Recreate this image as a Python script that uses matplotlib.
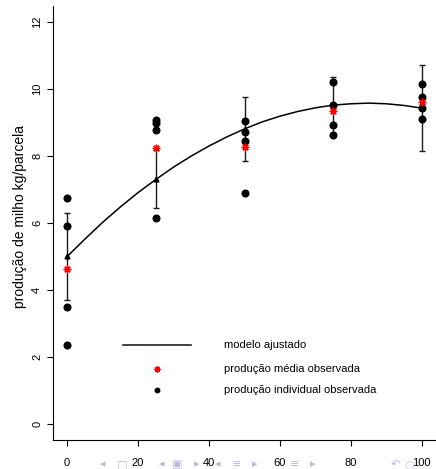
import matplotlib
matplotlib.use("Agg")
import matplotlib.pyplot as plt
from matplotlib.lines import Line2D

plt.rcParams['font.family'] = ['Liberation Sans', 'DejaVu Sans']

# observed yields (4 plots per dose)
doses = [0, 25, 50, 75, 100]
individual = [
    [6.75, 5.91, 3.49, 2.36],
    [9.07, 8.98, 8.78, 6.14],
    [9.04, 8.72, 8.46, 6.90],
    [10.21, 9.52, 8.93, 8.64],
    [10.14, 9.75, 9.44, 9.11],
]
means = [4.63, 8.24, 8.28, 9.33, 9.61]

# fitted model at the doses, with interval half-widths
fitted = [5.00, 7.31, 8.81, 9.53, 9.43]
half_width = [1.29, 0.87, 0.95, 0.83, 1.28]

# fitted curve
curve_x = [0, 5, 10, 15, 20, 25, 30, 35, 40, 45, 50,
           55, 60, 65, 70, 75, 80, 85, 90, 95, 100]
curve_y = [5.00, 5.52, 6.02, 6.48, 6.91, 7.30, 7.67, 8.00, 8.30, 8.57, 8.81,
           9.02, 9.19, 9.33, 9.44, 9.52, 9.56, 9.58, 9.56, 9.51, 9.43]

xticks = [0, 20, 40, 60, 80, 100]
yticks = [0, 2, 4, 6, 8, 10, 12]

W, H = 436, 469
fig = plt.figure(figsize=(W / 100, H / 100), dpi=100)
ax = fig.add_axes([53 / W, 29 / H, 383 / W, 434 / H])
ax.set_xlim(-4, 104)
ax.set_ylim(-0.48, 12.48)

ax.errorbar(doses, fitted, yerr=half_width, fmt='none', ecolor='#1a1a1a',
            elinewidth=1.0, capsize=2.3, capthick=1.0, zorder=2)
ax.plot(curve_x, curve_y, color='black', lw=1.1, zorder=3)
ax.plot(doses, fitted, ls='none', marker='^', ms=3.5, color='black', zorder=3)
for d, vals in zip(doses, individual):
    ax.plot([d] * len(vals), vals, ls='none', marker='o', ms=4.8,
            color='black', zorder=4)
ax.plot(doses, means, ls='none', marker=(8, 2, 0), ms=5.5, mew=0.9,
        color='red', zorder=5)

for s in ['top', 'right']:
    ax.spines[s].set_visible(False)
for s in ['left', 'bottom']:
    ax.spines[s].set_linewidth(0.8)
ax.set_xticks(xticks)
ax.set_yticks(yticks)
ax.tick_params(length=4.3, width=0.8, labelsize=8)
ax.tick_params(axis='x', pad=8.5)
ax.tick_params(axis='y', pad=3.5)
for lab in ax.get_yticklabels():
    lab.set_rotation(90)
    lab.set_va('center')
ax.set_ylabel('produção de milho kg/parcela', fontsize=10)
ax.yaxis.set_label_coords(-0.068, 0.516)

# legend drawn by hand
def fx(px):
    return px / W

def fy(py):
    return 1 - py / H

fig.add_artist(Line2D([fx(123), fx(191)], [fy(345), fy(345)], color='#222222', lw=1.2))
fig.add_artist(Line2D([fx(157)], [fy(369)], ls='none', marker=(8, 2, 0), ms=4.5,
                      mew=0.9, color='red'))
fig.add_artist(Line2D([fx(157)], [fy(390)], ls='none', marker='o', ms=3.2, color='black'))
leg_labels = ['modelo ajustado', 'produção média observada', 'produção individual observada']
for py, txt in zip([345, 369, 390], leg_labels):
    fig.text(fx(224), fy(py), txt, fontsize=8, va='center', ha='left')

# faint slide navigation symbols
nav = [(103, '◂'), (122, '□'), (162, '◂'), (177, '▣'), (197, '▸'), (218, '◂'),
       (237, '≡'), (255, '▸'), (295, '≡'), (313, '▸'), (395, '↶'), (409, '○')]
for px, ch in nav:
    fig.text(fx(px), fy(464), ch, fontsize=8, color='#b8b8e0', ha='center', va='center',
             family=['DejaVu Sans'])

fig.savefig('out.png', dpi=100)
